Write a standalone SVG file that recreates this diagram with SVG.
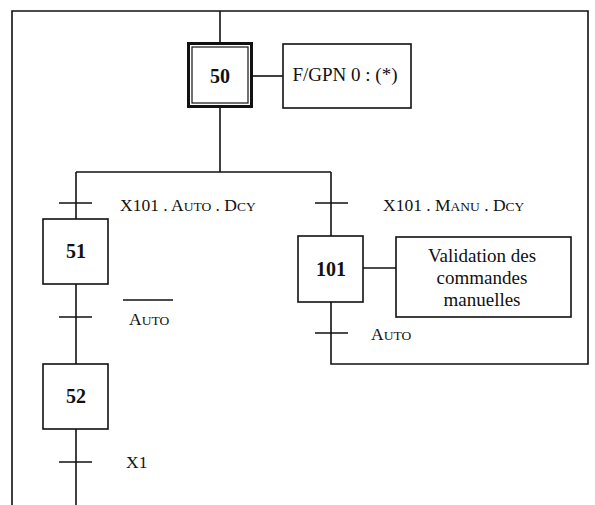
<svg xmlns="http://www.w3.org/2000/svg" width="595" height="505" viewBox="0 0 595 505">
<style>
.ln{stroke:#111;stroke-width:1.6;fill:none}
.box{stroke:#111;stroke-width:1.6;fill:#fff}
.num{font-family:"Liberation Serif",serif;font-weight:bold;font-size:20px;fill:#111;text-anchor:middle}
.lbl{font-family:"Liberation Serif",serif;font-size:17.5px;fill:#111}
.sc{font-size:13.5px}
.act{font-family:"Liberation Serif",serif;font-size:19px;fill:#111;text-anchor:middle}
</style>
<rect width="595" height="505" fill="#fff"/>
<g id="connectors">
<polyline class="ln" points="12,505 12,11 588,11 588,364 331,364 331,302"/>
<line class="ln" x1="220" y1="11" x2="220" y2="43"/>
<line class="ln" x1="220" y1="108" x2="220" y2="172"/>
<line class="ln" x1="76" y1="172" x2="331" y2="172"/>
<line class="ln" x1="76" y1="172" x2="76" y2="219"/>
<line class="ln" x1="331" y1="172" x2="331" y2="236"/>
<line class="ln" x1="76" y1="284" x2="76" y2="364"/>
<line class="ln" x1="76" y1="429" x2="76" y2="505"/>
<line class="ln" x1="252" y1="76" x2="283" y2="76"/>
<line class="ln" x1="363" y1="268" x2="396" y2="268"/>
</g>
<g id="transitions">
<line class="ln" x1="59" y1="203" x2="92" y2="203"/>
<text class="lbl" x="120" y="211">X101 . A<tspan class="sc">UTO</tspan> . D<tspan class="sc">CY</tspan></text>
<line class="ln" x1="315" y1="203" x2="348" y2="203"/>
<text class="lbl" x="383" y="211">X101 . M<tspan class="sc">ANU</tspan> . D<tspan class="sc">CY</tspan></text>
<line class="ln" x1="59" y1="317" x2="92" y2="317"/>
<line class="ln" x1="123" y1="300" x2="173" y2="300"/>
<text class="lbl" x="129" y="325">A<tspan class="sc">UTO</tspan></text>
<line class="ln" x1="315" y1="333" x2="348" y2="333"/>
<text class="lbl" x="371" y="340">A<tspan class="sc">UTO</tspan></text>
<line class="ln" x1="59" y1="462" x2="92" y2="462"/>
<text class="lbl" x="126" y="468">X1</text>
</g>
<g id="step50">
<rect x="188.5" y="43.5" width="63" height="63" fill="#fff" stroke="#111" stroke-width="3"/>
<rect x="192" y="47" width="56" height="56" fill="none" stroke="#111" stroke-width="1.2"/>
<text class="num" x="220" y="83">50</text>
</g>
<g id="action50">
<rect class="box" x="283" y="44" width="128" height="64"/>
<text class="act" x="345" y="81">F/GPN 0 : (*)</text>
</g>
<g id="step51">
<rect class="box" x="43" y="219" width="65" height="65"/>
<text class="num" x="76" y="258">51</text>
</g>
<g id="step52">
<rect class="box" x="43" y="364" width="65" height="65"/>
<text class="num" x="76" y="403">52</text>
</g>
<g id="step101">
<rect class="box" x="298" y="236" width="65" height="66"/>
<text class="num" x="331" y="276">101</text>
</g>
<g id="action101">
<rect class="box" x="396" y="237" width="175" height="80"/>
<text class="act" x="482" y="262">Validation des</text>
<text class="act" x="482" y="284">commandes</text>
<text class="act" x="482" y="306">manuelles</text>
</g>
</svg>
